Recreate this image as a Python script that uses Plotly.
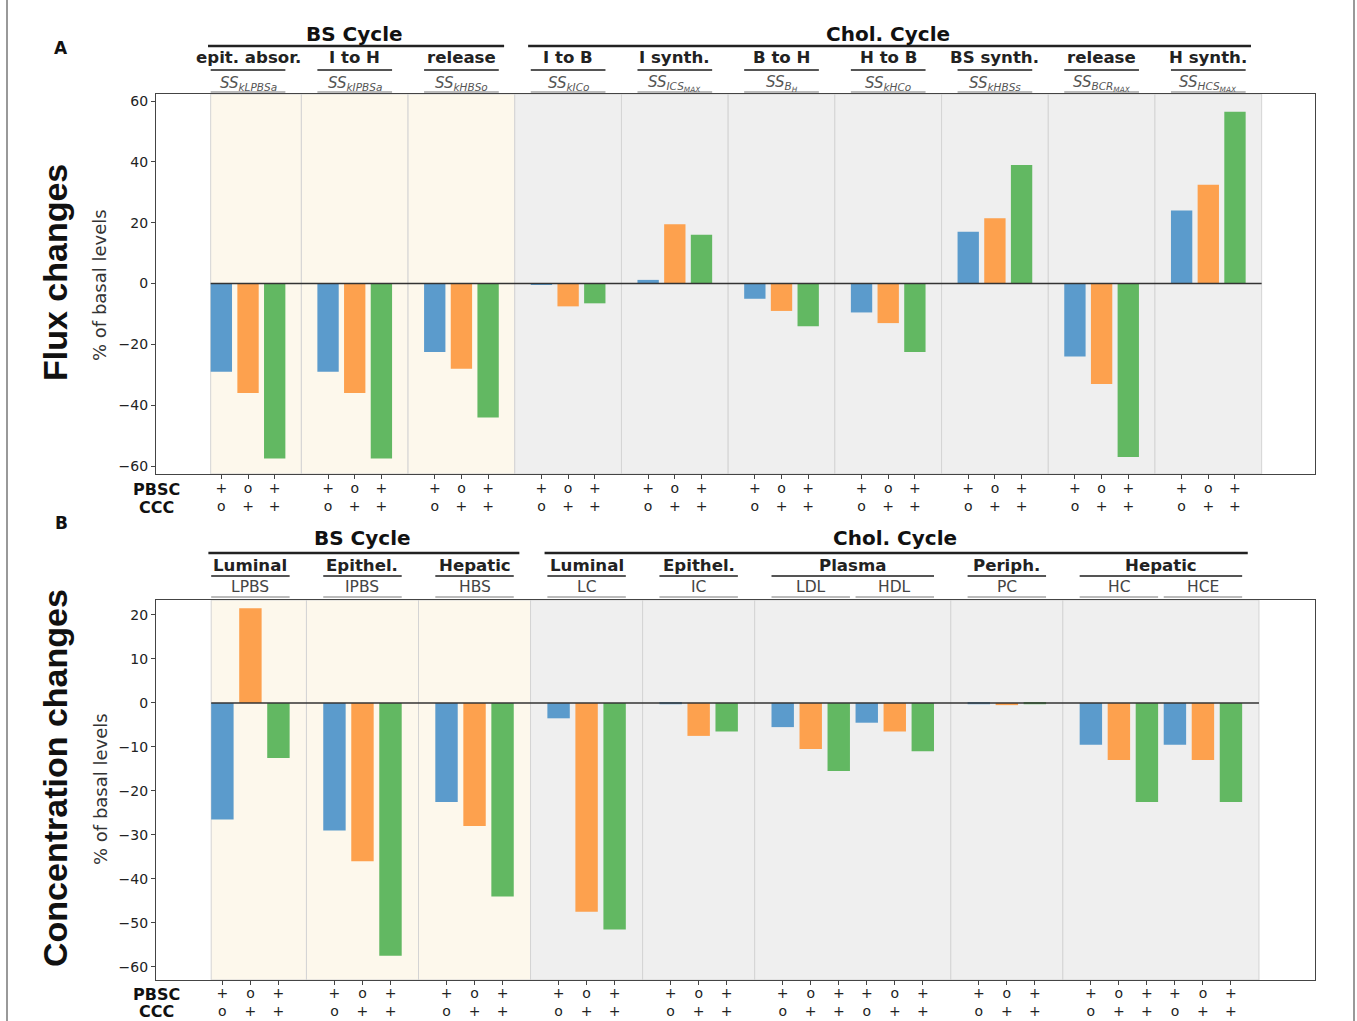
import plotly.graph_objects as go

# ---------------- data ----------------
flux_cycle_names = ["BS Cycle", "Chol. Cycle"]
flux_cycle_sizes = [3, 7]
flux_groups = ["epit. absor.", "I to H", "release", "I to B", "I synth.",
               "B to H", "H to B", "BS synth.", "release", "H synth."]
flux_params = ["SS<sub>kLPBSa</sub>", "SS<sub>kIPBSa</sub>", "SS<sub>kHBSo</sub>",
               "SS<sub>kICo</sub>", "SS<sub>ICS<sub>MAX</sub></sub>",
               "SS<sub>B<sub>H</sub></sub>", "SS<sub>kHCo</sub>",
               "SS<sub>kHBSs</sub>", "SS<sub>BCR<sub>MAX</sub></sub>",
               "SS<sub>HCS<sub>MAX</sub></sub>"]
flux_pbsc = [-29, -29, -22.5, -0.3, 1.2, -5, -9.5, 17, -24, 24]
flux_ccc = [-36, -36, -28, -7.5, 19.5, -9, -13, 21.5, -33, 32.5]
flux_both = [-57.5, -57.5, -44, -6.5, 16, -14, -22.5, 39, -57, 56.5]

conc_cycle_names = ["BS Cycle", "Chol. Cycle"]
conc_cycle_sizes = [3, 5]
conc_compartments = ["Luminal", "Epithel.", "Hepatic", "Luminal", "Epithel.",
                     "Plasma", "Periph.", "Hepatic"]
conc_species = [["LPBS"], ["IPBS"], ["HBS"], ["LC"], ["IC"], ["LDL", "HDL"], ["PC"], ["HC", "HCE"]]
conc_pbsc = [-26.5, -29, -22.5, -3.5, -0.3, -5.5, -4.5, -0.3, -9.5, -9.5]
conc_ccc = [21.5, -36, -28, -47.5, -7.5, -10.5, -6.5, -0.5, -13, -13]
conc_both = [-12.5, -57.5, -44, -51.5, -6.5, -15.5, -11, -0.3, -22.5, -22.5]

scenario_pbsc = ["+", "o", "+"]
scenario_ccc = ["o", "+", "+"]
series_colors = ["#5b9bcc", "#fda14e", "#62b862"]
band_colors = {"BS Cycle": "#fdf8ec", "Chol. Cycle": "#efefef"}

W, H = 1357, 1021
FONT = "DejaVu Sans"


def px(x):
    return x / W


def py(y):
    return 1 - y / H


fig = go.Figure()
shapes = []
annotations = []


def build_panel(xa, ya, cycle_names, cycle_sizes, groups, subs, series,
                rows_y, header_y, title, title_y):
    item_starts = []
    group_items = []
    pos = 0
    for g, items in enumerate(subs):
        idx = []
        for it in items:
            item_starts.append(pos)
            idx.append(len(item_starts) - 1)
            pos += 3
        group_items.append(idx)
        pos += 1
    xref = "x" if xa == 1 else f"x{xa}"
    yref = "y" if ya == 1 else f"y{ya}"
    tickvals, ticktext = [], []
    for s in range(3):
        xs = [st + s for st in item_starts]
        fig.add_trace(go.Bar(x=xs, y=series[s], width=0.8, marker_color=series_colors[s],
                             marker_line_width=0, xaxis=xref, yaxis=yref, showlegend=False))
    for st in item_starts:
        for s in range(3):
            tickvals.append(st + s)
            ticktext.append(scenario_pbsc[s] + "<br>" + scenario_ccc[s])
    group_cycle = []
    for name, n in zip(cycle_names, cycle_sizes):
        group_cycle += [name] * n
    band_end = 0
    for g, idx in enumerate(group_items):
        x0 = item_starts[idx[0]] - 1
        x1 = item_starts[idx[-1]] + 3
        if g == 0:
            x0 = item_starts[0] - 0.4
        band_end = x1
        shapes.append(dict(type="rect", xref=xref, yref=f"{yref} domain", x0=x0, x1=x1,
                           y0=0, y1=1, fillcolor=band_colors[group_cycle[g]],
                           line=dict(color="#d4d4d4", width=1), layer="below"))
    shapes.append(dict(type="line", xref=xref, yref=yref, x0=item_starts[0] - 0.4, x1=band_end,
                       y0=0, y1=0, line=dict(color="#333", width=1.5)))
    cy_text, cy_line, g_text, g_line, s_text, s_line, s_italic = header_y
    flat_labels = [lab for items in subs for lab in items]
    for i, st in enumerate(item_starts):
        c = st + 1
        lab = flat_labels[i]
        txt = f"<i>{lab}</i>" if s_italic else lab
        annotations.append(dict(x=c, y=py(s_text), xref=xref, yref="paper", text=txt,
                                showarrow=False, xanchor="center", yanchor="middle",
                                font=dict(family=FONT, size=15 if s_italic else 15.5,
                                          color="#555" if s_italic else "#444")))
        shapes.append(dict(type="line", xref=xref, yref="paper", x0=c - 1.4, x1=c + 1.4,
                           y0=py(s_line), y1=py(s_line), line=dict(color="#bbb", width=2)))
    for g, idx in enumerate(group_items):
        c0 = item_starts[idx[0]] + 1
        c1 = item_starts[idx[-1]] + 1
        annotations.append(dict(x=(c0 + c1) / 2, y=py(g_text), xref=xref, yref="paper",
                                text=f"<b>{groups[g]}</b>", showarrow=False,
                                xanchor="center", yanchor="middle",
                                font=dict(family=FONT, size=16.6, color="#222")))
        shapes.append(dict(type="line", xref=xref, yref="paper", x0=c0 - 1.4, x1=c1 + 1.4,
                           y0=py(g_line), y1=py(g_line), line=dict(color="#555", width=2)))
    gi = 0
    for name, n in zip(cycle_names, cycle_sizes):
        c0 = item_starts[group_items[gi][0]] + 1
        c1 = item_starts[group_items[gi + n - 1][-1]] + 1
        gi += n
        annotations.append(dict(x=(c0 + c1) / 2, y=py(cy_text), xref=xref, yref="paper",
                                text=f"<b>{name}</b>", showarrow=False,
                                xanchor="center", yanchor="middle",
                                font=dict(family=FONT, size=20, color="#111")))
        shapes.append(dict(type="line", xref=xref, yref="paper", x0=c0 - 1.5, x1=c1 + 1.6,
                           y0=py(cy_line), y1=py(cy_line), line=dict(color="#222", width=2.5)))
    for lab, yy in zip(["PBSC", "CCC"], rows_y):
        annotations.append(dict(x=px(156), y=py(yy), xref="paper", yref="paper",
                                text=f"<b>{lab}</b>", showarrow=False, xanchor="center",
                                yanchor="middle", font=dict(family=FONT, size=16, color="#111")))
    annotations.append(dict(x=px(55), y=py(title_y), xref="paper", yref="paper", text=f"<b>{title}</b>",
                            showarrow=False, textangle=-90, xanchor="center", yanchor="middle",
                            font=dict(family="Liberation Sans", size=34, color="#111")))
    return tickvals, ticktext


flux_subs = [[p] for p in flux_params]
tvA, ttA = build_panel(1, 1, flux_cycle_names, flux_cycle_sizes, flux_groups, flux_subs,
                       [flux_pbsc, flux_ccc, flux_both], (489, 507),
                       (34, 46, 58, 70, 83, 92, True), "Flux changes", 272)
tvB, ttB = build_panel(2, 2, conc_cycle_names, conc_cycle_sizes, conc_compartments, conc_species,
                       [conc_pbsc, conc_ccc, conc_both], (994, 1011),
                       (538, 553, 565, 576, 587, 597, False), "Concentration changes", 778)

for yy in (285, 789):
    annotations.append(dict(x=px(100), y=py(yy), xref="paper", yref="paper", text="% of basal levels",
                            showarrow=False, textangle=-90, xanchor="center", yanchor="middle",
                            font=dict(family=FONT, size=18, color="#333")))
for lab, yy in (("A", 48), ("B", 523)):
    annotations.append(dict(x=px(61), y=py(yy), xref="paper", yref="paper", text=f"<b>{lab}</b>",
                            showarrow=False, xanchor="center", yanchor="middle",
                            font=dict(family=FONT, size=17, color="#111")))

for xx in (7, 1354):
    shapes.append(dict(type="line", xref="paper", yref="paper", x0=px(xx), x1=px(xx), y0=0, y1=1,
                       line=dict(color="#777", width=1.5)))

axis_common = dict(showline=True, mirror=True, linecolor="#444", linewidth=1.2, showgrid=False,
                   zeroline=False, ticks="outside", ticklen=4, tickcolor="#444", automargin=False,
                   tickfont=dict(family=FONT, size=14, color="#222"))

fig.update_layout(
    width=W, height=H, margin=dict(l=0, r=0, t=0, b=0),
    paper_bgcolor="white", plot_bgcolor="white", barmode="overlay",
    xaxis=dict(domain=[px(156), px(1315)], range=[-2.45, 41.0], anchor="y",
               tickvals=tvA, ticktext=ttA, ticklabelstandoff=-3, **axis_common),
    yaxis=dict(domain=[py(474), py(94)], range=[-62.6, 62.3], anchor="x",
               tickvals=[-60, -40, -20, 0, 20, 40, 60], **axis_common),
    xaxis2=dict(domain=[px(156), px(1315)], range=[-2.37, 39.0], anchor="y2",
                tickvals=tvB, ticktext=ttB, ticklabelstandoff=-4, **axis_common),
    yaxis2=dict(domain=[py(980), py(600)], range=[-63.0, 23.4], anchor="x2",
                tickvals=[-60, -50, -40, -30, -20, -10, 0, 10, 20], **axis_common),
    shapes=shapes, annotations=annotations,
)

fig.write_html("out.html", config={"displayModeBar": False},
               post_script="document.body.style.margin='0px';document.body.style.overflow='hidden';")
